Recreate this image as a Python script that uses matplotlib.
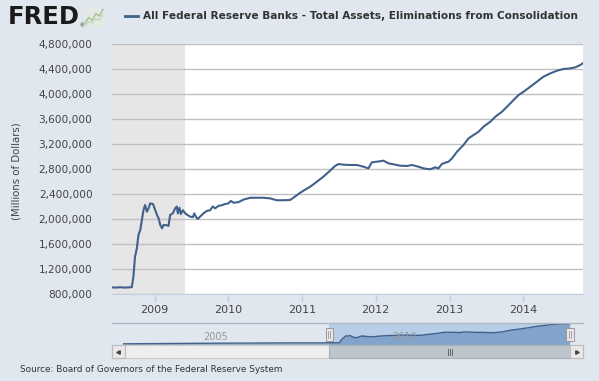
import matplotlib
matplotlib.use("Agg")
import matplotlib.pyplot as plt
import matplotlib.dates as mdates
import matplotlib.ticker as ticker
import matplotlib.transforms as mtransforms
from matplotlib.patches import Rectangle
from matplotlib.lines import Line2D
import pandas as pd

# weekly-ish readings of the series (millions of dollars)
dates = [
    "2008-06-04", "2008-06-25", "2008-07-16", "2008-08-06", "2008-08-27", "2008-09-10",
    "2008-09-18", "2008-09-26", "2008-10-05", "2008-10-13", "2008-10-22", "2008-10-30",
    "2008-11-07", "2008-11-15", "2008-11-24", "2008-12-02", "2008-12-10", "2008-12-24",
    "2009-01-04", "2009-01-13", "2009-01-21", "2009-01-29", "2009-02-07", "2009-02-14",
    "2009-03-03", "2009-03-11", "2009-03-19", "2009-04-01", "2009-04-13", "2009-04-21",
    "2009-04-26", "2009-05-04", "2009-05-11", "2009-05-21", "2009-06-02", "2009-06-13",
    "2009-06-26", "2009-07-10", "2009-07-16", "2009-07-26", "2009-08-03", "2009-08-15",
    "2009-08-31", "2009-09-17", "2009-10-03", "2009-10-16", "2009-10-28", "2009-11-13",
    "2009-11-30", "2009-12-16", "2010-01-02", "2010-01-14", "2010-01-27", "2010-02-21",
    "2010-03-17", "2010-04-19", "2010-05-22", "2010-06-24", "2010-07-27", "2010-08-29",
    "2010-10-01", "2010-11-03", "2010-11-28", "2010-12-23", "2011-01-17", "2011-02-11",
    "2011-03-16", "2011-04-17", "2011-05-20", "2011-06-14", "2011-07-01", "2011-07-25",
    "2011-08-27", "2011-09-30", "2011-11-01", "2011-11-26", "2011-12-13", "2012-01-07",
    "2012-02-09", "2012-03-05", "2012-03-29", "2012-05-02", "2012-06-04", "2012-06-29",
    "2012-07-31", "2012-08-25", "2012-09-27", "2012-10-22", "2012-11-07", "2012-11-24",
    "2012-12-10", "2012-12-27", "2013-01-13", "2013-02-07", "2013-03-11", "2013-04-05",
    "2013-04-30", "2013-05-25", "2013-06-18", "2013-07-22", "2013-08-16", "2013-09-18",
    "2013-10-21", "2013-11-14", "2013-12-09", "2014-01-03", "2014-02-05", "2014-03-10",
    "2014-04-11", "2014-05-15", "2014-06-17", "2014-07-19", "2014-08-22", "2014-09-16",
    "2014-10-11", "2014-10-22",
]
values = [
    905000, 903000, 908000, 902000, 906000, 910000,
    1077000, 1397000, 1530000, 1744000, 1824000, 1984000,
    2144000, 2224000, 2117000, 2170000, 2250000, 2240000,
    2144000, 2064000, 2010000, 1904000, 1850000, 1904000,
    1900000, 1890000, 2064000, 2090000, 2170000, 2200000,
    2090000, 2180000, 2080000, 2140000, 2090000, 2064000,
    2037000, 2030000, 2090000, 2030000, 2000000, 2040000,
    2090000, 2130000, 2140000, 2200000, 2170000, 2210000,
    2220000, 2240000, 2250000, 2290000, 2260000, 2270000,
    2310000, 2340000, 2340000, 2340000, 2330000, 2300000,
    2300000, 2304000, 2360000, 2420000, 2470000, 2517000,
    2597000, 2677000, 2773000, 2848000, 2880000, 2869000,
    2864000, 2864000, 2837000, 2810000, 2906000, 2917000,
    2933000, 2890000, 2875000, 2853000, 2848000, 2864000,
    2837000, 2810000, 2795000, 2827000, 2810000, 2880000,
    2900000, 2917000, 2970000, 3077000, 3184000, 3290000,
    3344000, 3397000, 3477000, 3557000, 3637000, 3717000,
    3824000, 3904000, 3984000, 4037000, 4117000, 4197000,
    4277000, 4330000, 4373000, 4400000, 4410000, 4427000,
    4464000, 4490000,
]

# earlier part of the series, only visible in the navigator strip
early_dates = ["2002-12-18", "2003-12-31", "2004-12-29", "2005-12-28",
               "2006-12-27", "2007-06-27", "2007-12-26", "2008-03-26"]
early_values = [720000, 770000, 820000, 850000, 880000, 890000, 890000, 900000]

recession = ("2007-12-01", "2009-06-01")
view = ("2008-06-04", "2014-10-24")
nav_years = [2005, 2010]

title = "All Federal Reserve Banks - Total Assets, Eliminations from Consolidation"
source = "Source: Board of Governors of the Federal Reserve System"
ylabel = "(Millions of Dollars)"

BG = "#E0E7EF"
LINE = "#41618C"
W, H = 599, 381


def fx(x):
    return x / W


def fy(y):
    return 1 - y / H


dt = pd.to_datetime(dates)
nav_dt = pd.to_datetime(early_dates + dates)
nav_vals = early_values + values

fig = plt.figure(figsize=(W / 100, H / 100), dpi=100, facecolor=BG)

# main chart
ax = fig.add_axes([fx(112), fy(294), (583 - 112) / W, (294 - 44) / H])
ax.set_facecolor("white")
ax.axvspan(pd.Timestamp(recession[0]), pd.Timestamp(recession[1]), color="#E6E6E6", lw=0, zorder=0)
ax.plot(dt, values, color=LINE, lw=1.5, zorder=3)
ax.set_xlim(pd.Timestamp(view[0]), pd.Timestamp(view[1]))
ax.set_ylim(800000, 4800000)
ax.yaxis.set_major_locator(ticker.MultipleLocator(400000))
ax.yaxis.set_major_formatter(ticker.FuncFormatter(lambda v, p: f"{v:,.0f}"))
ax.xaxis.set_major_locator(mdates.YearLocator())
ax.xaxis.set_major_formatter(mdates.DateFormatter("%Y"))
ax.set_axisbelow(True)
ax.grid(axis="y", color="#C0C0C0", lw=1)
for side in ["top", "right", "left"]:
    ax.spines[side].set_visible(False)
ax.spines["bottom"].set_color("#C0D0E0")
ax.tick_params(axis="y", length=0, pad=14, labelsize=7.6, labelcolor="#444444")
ax.tick_params(axis="x", length=6, width=1, color="#C0D0E0", pad=2, labelsize=8, labelcolor="#444444")

fig.text(fx(17), fy(171), ylabel, rotation=90, ha="center", va="center", fontsize=7.3, color="#444444")

# header
fig.text(fx(7.5), fy(17), "FRED", fontsize=17.5, fontweight="heavy", color="#1A1A1A", va="center")
fig.text(fx(79.5), fy(26), "®", fontsize=3.5, color="#1A1A1A", va="center")
icon = fig.add_axes([fx(84), fy(27), 20 / W, 19 / H])
icon.set_facecolor("#E4E9E4")
icon.plot([0, 1, 2, 3, 4, 5], [1, 3, 2, 4.5, 3.5, 6], color="#9CC48E", lw=1)
icon.plot([0, 1, 2, 3, 4, 5], [0, 1.5, 1, 2.5, 2, 4], color="#C5D6BD", lw=1)
icon.set_xlim(-0.3, 5.3)
icon.set_ylim(-0.5, 6.5)
icon.set_xticks([])
icon.set_yticks([])
for s in icon.spines.values():
    s.set_visible(False)

fig.add_artist(Line2D([fx(125), fx(138)], [fy(16), fy(16)], color=LINE, lw=2))
fig.text(fx(143), fy(16), title, fontsize=7.6, fontweight="bold", color="#333333", va="center")

fig.text(fx(20), fy(370), source, fontsize=6.4, color="#333333", va="center")

# navigator strip
nav = fig.add_axes([fx(123.3), fy(345), (570 - 123.3) / W, 22 / H])
nav.patch.set_visible(False)
sel0, sel1 = pd.Timestamp(view[0]), pd.Timestamp(view[1])
nav.axvspan(sel0, sel1, color="#B7CDE8", lw=0, zorder=0)
nav.fill_between(nav_dt, nav_vals, 500000, color="#4572A7", alpha=0.45, lw=0, zorder=1)
nav.plot(nav_dt, nav_vals, color=LINE, lw=1, zorder=2)
nav.set_xlim(nav_dt[0], sel1)
nav.set_ylim(500000, 4600000)
nav.axis("off")
nav_tr = mtransforms.blended_transform_factory(nav.transData, nav.transAxes)
for yr in nav_years:
    nav.annotate(str(yr), (mdates.date2num(pd.Timestamp(f"{yr}-01-01")), 0.36), xycoords=nav_tr,
                 xytext=(2.5, 0), textcoords="offset points",
                 ha="left", va="center", fontsize=7, color="#999999")

fig.add_artist(Line2D([fx(112), fx(583)], [fy(323), fy(323)], color="#B0B8C2", lw=1))

# scrollbar
fig.add_artist(Rectangle((fx(112), fy(358)), (583 - 112) / W, 13 / H, transform=fig.transFigure,
                         facecolor="#EEEEEE", edgecolor="#CCCCCC", lw=0.8))
bar_tr = mtransforms.blended_transform_factory(nav.transData, fig.transFigure)
x0, x1 = mdates.date2num(sel0), mdates.date2num(sel1)
fig.add_artist(Rectangle((x0, fy(358)), x1 - x0, 13 / H, transform=bar_tr,
                         facecolor="#BEC5CD", edgecolor="#A9B1BA", lw=0.8))
xm = (x0 + x1) / 2
for dx in (-2, 0, 2):
    tr = mtransforms.offset_copy(bar_tr, fig=fig, x=dx, units="dots")
    fig.add_artist(Line2D([xm, xm], [fy(348.5), fy(354.5)], transform=tr, color="#666666", lw=0.7))
for bx in (112, 570.3):
    fig.add_artist(Rectangle((fx(bx), fy(358)), 12.7 / W, 13 / H, transform=fig.transFigure,
                             facecolor="#EBE7E8", edgecolor="#BBBBBB", lw=0.8))
fig.add_artist(Line2D([fx(117.8)], [fy(351.5)], marker="<", ms=2.5, color="#444444", lw=0))
fig.add_artist(Line2D([fx(576.8)], [fy(351.5)], marker=">", ms=2.5, color="#444444", lw=0))

# range handles
for xd in (x0, x1):
    fig.add_artist(Rectangle((xd - 34, fy(341)), 68, 13.5 / H, transform=bar_tr,
                             facecolor="#EBE7E8", edgecolor="#999999", lw=0.7))
    for dx in (-1, 1):
        tr = mtransforms.offset_copy(bar_tr, fig=fig, x=dx, units="dots")
        fig.add_artist(Line2D([xd, xd], [fy(331), fy(338)], transform=tr, color="#888888", lw=0.5))

fig.savefig("out.png", dpi=100, facecolor=BG)
